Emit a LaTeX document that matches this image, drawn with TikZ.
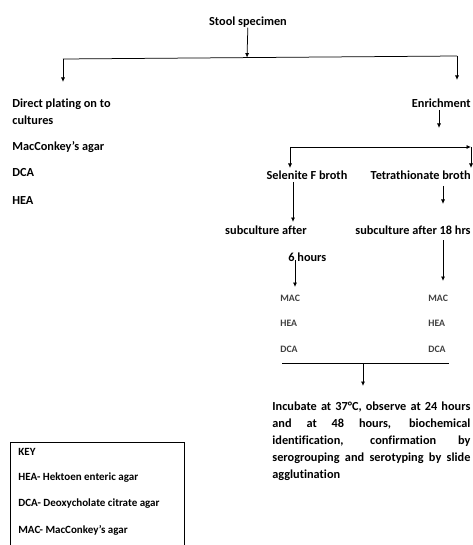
\documentclass[tikz,border=0pt]{standalone}
\usepackage{fontspec}
\setmainfont{Carlito}[Ligatures=NoCommon]
\usepackage{tikz}
\usetikzlibrary{arrows.meta}

\begin{document}
\begin{tikzpicture}[x=1pt,y=-1pt,>={Latex[length=4.5pt,width=4pt]},line width=0.75pt,
        txt/.style={font=\bfseries\fontsize{12.3}{17}\selectfont, inner sep=0pt},
        small/.style={font=\bfseries\fontsize{9.8}{12}\selectfont, text=black!75, inner sep=0pt},
        keytxt/.style={font=\bfseries\fontsize{11}{12}\selectfont, inner sep=0pt, anchor=west}]
        \useasboundingbox (0,0) rectangle (472,545);

        \node[txt] (0) at (248,22) {Stool specimen};
        \node[txt, anchor=west, align=left] (1) at (12,111.5) {Direct plating on to\\cultures};
        \node[txt, anchor=west] (2) at (12,147) {MacConkey's agar};
        \node[txt, anchor=west] (3) at (12,173) {DCA};
        \node[txt, anchor=west] (4) at (12,201) {HEA};
        \node[txt, anchor=east] (5) at (471,103) {Enrichment};
        \node[txt] (6) at (307,175) {Selenite F broth};
        \node[txt, anchor=east] (7) at (471,175) {Tetrathionate broth};
        \node[txt] (8) at (266,230) {subculture after};
        \node[txt, anchor=west] (9) at (288,257) {6 hours};
        \node[txt, anchor=east] (10) at (471,230) {subculture after 18 hrs};

        % columnas de medios
        \node[small, anchor=west] (11) at (280,298) {MAC};
        \node[small, anchor=west] (12) at (280,323) {HEA};
        \node[small, anchor=west] (13) at (280,349) {DCA};
        \node[small, anchor=west] (14) at (428,298) {MAC};
        \node[small, anchor=west] (15) at (428,323) {HEA};
        \node[small, anchor=west] (16) at (428,349) {DCA};

        \node[txt, anchor=north west, text width=198pt, align=justify] (17) at (272,401)
            {Incubate at 37°C, observe at 24 hours\linebreak and at 48 hours, biochemical\linebreak identification, confirmation by\linebreak serogrouping and serotyping by slide\linebreak agglutination};

        % cuadro KEY
        \node[keytxt] (18) at (18,452) {KEY};
        \node[keytxt] (19) at (18,478) {HEA- Hektoen enteric agar};
        \node[keytxt] (20) at (18,504) {DCA- Deoxycholate citrate agar};
        \node[keytxt] (21) at (18,530) {MAC- MacConkey's agar};
        \draw (10,546) |- (184,442) -- (184,546);

        \coordinate (a) at (63,59);
        \coordinate (b) at (457,56);
        \coordinate (m) at (247,57.6);
        \coordinate (a1) at (63,82);
        \coordinate (b1) at (457,80);
        \coordinate (e0) at (439,110);
        \coordinate (e1) at (439,128);
        \coordinate (c) at (290,147);
        \coordinate (d) at (471,147);
        \coordinate (c1) at (290,168);
        \coordinate (d1) at (471,168);
        \coordinate (s0) at (293,182);
        \coordinate (s1) at (293,222);
        \coordinate (t0) at (443,186);
        \coordinate (t1) at (443,204);
        \coordinate (h0) at (295,260);
        \coordinate (h1) at (295,287);
        \coordinate (r0) at (443,240);
        \coordinate (r1) at (443,281);
        \coordinate (f) at (282,363);
        \coordinate (g) at (449,363);
        \coordinate (n) at (363,363);
        \coordinate (n1) at (363,386);

        \draw[->] (0) -- (m);
        \draw (a) -- (b);
        \draw[->] (a) -- (a1);
        \draw[->] (b) -- (b1);
        \draw[->] (e0) -- (e1);
        \draw[->] (c) -- (d);  % flecha hacia la derecha
        \draw[->] (c) -- (c1);
        \draw[->] (d) -- (d1);
        \draw[->] (s0) -- (s1);
        \draw[->] (t0) -- (t1);
        \draw[->] (h0) -- (h1);
        \draw[->] (r0) -- (r1);
        \draw (f) -- (g);
        \draw[->] (n) -- (n1);
    \end{tikzpicture}
\end{document}
